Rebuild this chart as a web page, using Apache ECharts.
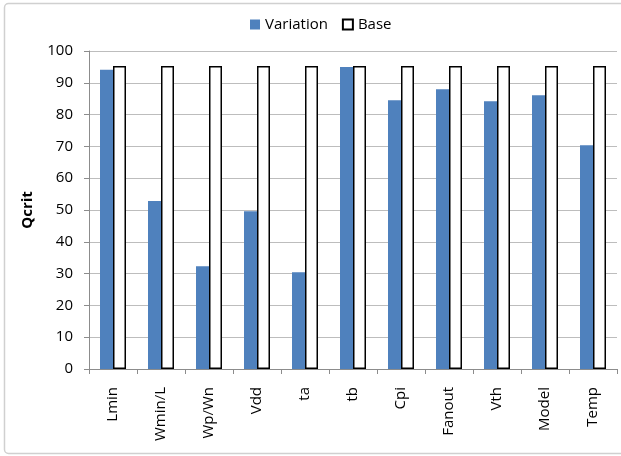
<!DOCTYPE html>
<html><head><meta charset="utf-8">
<script src="https://cdn.jsdelivr.net/npm/echarts@6/dist/echarts.min.js"></script>
<style>html,body{margin:0;padding:0;background:#fff}#c{width:621px;height:456px}</style>
</head><body><div id="c"></div>
<script>
const categories = ['Lmin','Wmin/L','Wp/Wn','Vdd','ta','tb','Cpi','Fanout','Vth','Model','Temp'];
const variation = [94.1, 52.8, 32.3, 49.6, 30.4, 95.0, 84.5, 88.0, 84.2, 86.1, 70.4];
const base = [95.3, 95.3, 95.3, 95.3, 95.3, 95.3, 95.3, 95.3, 95.3, 95.3, 95.3];
const yTicks = {min: 0, max: 100, interval: 10};

const font = '"Open Sans", "Noto Sans", sans-serif';
const chart = echarts.init(document.getElementById('c'));
chart.setOption({
  animation: false,
  textStyle: {fontFamily: font},
  graphic: [{type: 'rect', shape: {x: 4.5, y: 3.5, width: 640, height: 450, r: 4}, style: {fill: 'none', stroke: '#d0d0d0', lineWidth: 1.5}}],
  legend: {
    top: 12, left: 245, itemWidth: 10, itemHeight: 10, itemGap: 14,
    textStyle: {fontSize: 15, color: '#000', fontFamily: font},
    data: [{name: 'Variation', icon: 'rect'}, {name: 'Base', icon: 'rect'}]
  },
  grid: {left: 89, right: 4, top: 51, bottom: 87},
  xAxis: {
    type: 'category', data: categories,
    axisLine: {lineStyle: {color: '#8c8c8c'}},
    axisTick: {show: true, length: 5, lineStyle: {color: '#8c8c8c'}},
    axisLabel: {rotate: 90, color: '#000', fontSize: 15, margin: 18, interval: 0}
  },
  yAxis: {
    type: 'value', min: yTicks.min, max: yTicks.max, interval: yTicks.interval,
    name: 'Qcrit', nameLocation: 'middle', nameGap: 54, nameRotate: 90,
    nameTextStyle: {fontWeight: 'bold', fontSize: 15, color: '#000'},
    axisLine: {show: true, lineStyle: {color: '#8c8c8c'}},
    axisTick: {show: true, length: 5, lineStyle: {color: '#8c8c8c'}},
    axisLabel: {color: '#000', fontSize: 15, margin: 16},
    splitLine: {lineStyle: {color: '#bdbdbd'}}
  },
  series: [
    {name: 'Variation', type: 'bar', data: variation, barWidth: 13, barGap: '0%',
     itemStyle: {color: '#4f81bd'}},
    {name: 'Base', type: 'bar', data: base, barWidth: 13,
     itemStyle: {color: '#fff', borderColor: '#000', borderWidth: 1.5}}
  ]
});
</script></body></html>
